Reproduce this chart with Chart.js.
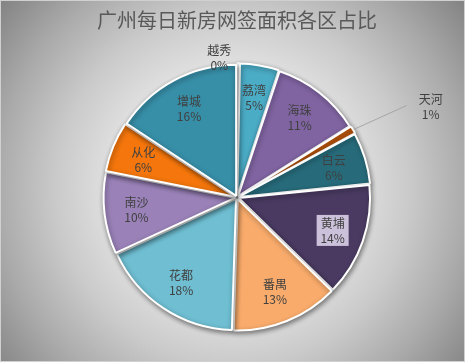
<!DOCTYPE html>
<html>
<head>
<meta charset="utf-8">
<script src="https://cdn.jsdelivr.net/npm/chart.js@4.4.0/dist/chart.umd.min.js"></script>
<style>
  html, body { margin: 0; padding: 0; background: #fff; }
</style>
</head>
<body>
<canvas id="pieChart" width="465" height="362"></canvas>
<script>
// 数据
const chartTitle = '广州每日新房网签面积各区占比';
const districts = ['越秀', '荔湾', '海珠', '天河', '白云', '黄埔', '番禺', '花都', '南沙', '从化', '增城'];
const shares = [0.3, 4.8, 11.0, 1.0, 6.3, 13.9, 13.2, 17.6, 10.0, 6.2, 15.7];
const sliceColors = ['#f9c89b', '#4bacc6', '#8064a2', '#c0580c', '#276b7b', '#4a3a62',
                     '#f8ab6b', '#6fbed2', '#9a82b8', '#f4760c', '#378ea7'];

const labelFont = '12px "Noto Sans CJK SC", "Noto Sans", sans-serif';

// 背景渐变
const bgPlugin = {
    id: 'bg',
    beforeDraw(chart) {
        const { ctx, width, height } = chart;
        ctx.save();
        const cx = width / 2, cy = height * 0.52;
        const g = ctx.createRadialGradient(cx, cy, 0, cx, cy, Math.hypot(width / 2, height / 2));
        g.addColorStop(0, '#f7f7f7');
        g.addColorStop(0.35, '#e8e8e8');
        g.addColorStop(0.6, '#cacaca');
        g.addColorStop(0.8, '#aaaaaa');
        g.addColorStop(1, '#858585');
        ctx.fillStyle = g;
        ctx.fillRect(0, 0, width, height);
        ctx.strokeStyle = '#d0d0d0';
        ctx.lineWidth = 1;
        ctx.strokeRect(0.5, 0.5, width - 1, height - 1);
        ctx.restore();
    }
};

// 扇区阴影
const shadowPlugin = {
    id: 'shadow',
    beforeDatasetDraw(chart) {
        const ctx = chart.ctx;
        ctx.save();
        ctx.shadowColor = 'rgba(0,0,0,0.45)';
        ctx.shadowBlur = 5;
        ctx.shadowOffsetX = 1;
        ctx.shadowOffsetY = 2;
    },
    afterDatasetDraw(chart) {
        chart.ctx.restore();
    }
};

// 数据标签
const labelPlugin = {
    id: 'sliceLabels',
    afterDatasetsDraw(chart) {
        const ctx = chart.ctx;
        const meta = chart.getDatasetMeta(0);
        const total = shares.reduce((a, b) => a + b, 0);
        ctx.save();
        ctx.font = labelFont;
        ctx.textAlign = 'center';
        ctx.textBaseline = 'middle';
        meta.data.forEach(function(arc, i) {
            const p = arc.getProps(['x', 'y', 'startAngle', 'endAngle', 'outerRadius'], true);
            const mid = (p.startAngle + p.endAngle) / 2;
            const off = arc.options.offset || 0;
            const pct = Math.round(shares[i] / total * 100) + '%';
            let lx, ly;
            if (i === 0) {
                // 越秀：放在饼图外侧上方
                const ex = p.x + Math.cos(mid) * (p.outerRadius + off);
                const ey = p.y + Math.sin(mid) * (p.outerRadius + off);
                lx = ex - 19;
                ly = ey - 2;
            } else if (i === 3) {
                // 天河：引导线
                const r = p.outerRadius + off - 3;
                const ex = p.x + Math.cos(mid) * r;
                const ey = p.y + Math.sin(mid) * r;
                ctx.strokeStyle = '#a6a6a6';
                ctx.lineWidth = 1;
                ctx.beginPath();
                ctx.moveTo(ex, ey);
                ctx.lineTo(ex + 53, ey - 24);
                ctx.stroke();
                lx = ex + 77;
                ly = ey - 23;
            } else {
                const d = p.outerRadius * 0.72 + off;
                lx = p.x + Math.cos(mid) * d;
                ly = p.y + Math.sin(mid) * d;
            }
            if (i === 5) {
                ctx.fillStyle = '#ccc1da';
                ctx.fillRect(lx - 16, ly - 16, 32, 31);
            }
            ctx.fillStyle = '#404040';
            ctx.fillText(districts[i], lx, ly - 7);
            ctx.fillText(pct, lx, ly + 8);
        });
        ctx.restore();
    }
};

const ctx = document.getElementById('pieChart').getContext('2d');
new Chart(ctx, {
    type: 'pie',
    data: {
        labels: districts,
        datasets: [{
            data: shares,
            backgroundColor: sliceColors,
            borderColor: '#ffffff',
            borderWidth: 2,
            offset: 7
        }]
    },
    options: {
        responsive: false,
        animation: false,
        layout: {
            padding: { left: 9, bottom: 29 }
        },
        plugins: {
            legend: { display: false },
            tooltip: { enabled: false },
            title: {
                display: true,
                text: chartTitle,
                color: '#595959',
                font: { family: '"Noto Sans CJK SC", "Noto Sans", sans-serif', size: 20, weight: 'normal' },
                padding: { top: 8, bottom: 30 }
            }
        }
    },
    plugins: [bgPlugin, shadowPlugin, labelPlugin]
});
</script>
</body>
</html>
